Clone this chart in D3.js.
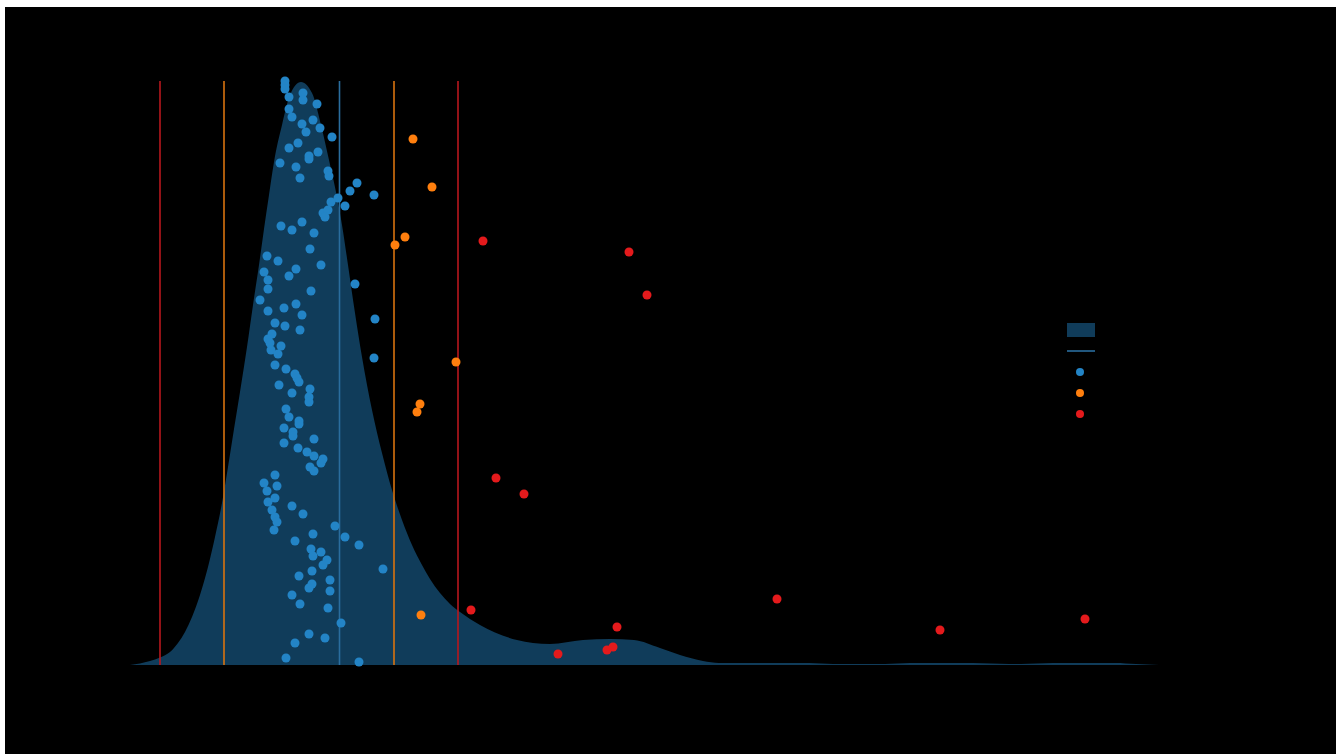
<!DOCTYPE html>
<html>
<head>
<meta charset="utf-8">
<script src="https://cdn.jsdelivr.net/npm/d3@7"></script>
<style>
  html, body { margin: 0; padding: 0; background: #ffffff; overflow: hidden; }
  svg { position: absolute; left: 5px; top: 7px; display: block; }
  text { font-family: "DejaVu Sans", sans-serif; }
</style>
</head>
<body>
<svg id="chart" width="1331" height="747"></svg>
<script>
// Kernel density estimate of the measured values (value, density)
const densityX = [0, 10, 20, 30, 40, 48, 55, 62, 70, 78, 85, 92, 98, 104, 110, 117, 123, 129, 134, 139, 144, 152, 160, 171,
  182, 191, 199, 207, 212, 218, 225, 232, 242, 252, 262, 272, 282, 292, 300, 310, 320, 330, 350, 387, 403, 420, 453, 480, 504,
  530, 550, 573, 589, 679, 703, 755, 780, 843, 879, 891, 923, 985, 1006, 1029];
const densityY = [0, 1.5, 4, 7.5, 13, 22, 33, 48, 70, 98, 128, 162, 198, 236, 273, 318, 360, 400, 436, 470, 503, 540, 570, 583,
  572, 540, 505, 468, 440, 400, 352, 308, 255, 212, 175, 145, 120, 100, 86, 72, 61, 53, 40, 25, 22, 21, 25, 26, 25,
  17, 10, 4, 2, 2, 1, 1, 2, 2, 1, 1, 2, 2, 1, 0];

// Reference lines: outer fence, inner fence, median, inner fence, outer fence
const refValues = [30, 94, 209.5, 264, 328];
const refKinds  = ["outer", "inner", "median", "inner", "outer"];

// Observations within the inner fences (value, vertical jitter)
const normalX = [155, 155, 155, 159, 173, 173, 187, 159, 162, 172, 183, 176, 190, 202, 159, 168, 188, 179, 179, 150,
  166, 170, 198, 199, 227, 220, 244, 208, 201, 215, 193, 198, 195, 151, 172, 162, 184, 180, 137, 148,
  191, 166, 134, 159, 138, 138, 181, 225, 130, 166, 138, 154, 172, 145, 155, 170, 245, 142, 138, 140,
  151, 141, 148, 244, 145, 156, 165, 167, 169, 149, 180, 162, 179, 179, 156, 159, 169, 169, 154, 163,
  163, 184, 154, 168, 177, 184, 193, 191, 180, 184, 145, 134, 147, 137, 145, 138, 162, 142, 173, 145,
  147, 205, 144, 183, 215, 165, 229, 181, 191, 183, 197, 193, 253, 182, 169, 200, 182, 179, 200, 162,
  170, 198, 211, 179, 195, 165, 156, 229];
const normalJ = [584, 580, 576, 568, 572, 565, 561, 556, 548, 541, 545, 533, 537, 528, 517, 522, 513, 509, 506, 502,
  498, 487, 494, 489, 482, 474, 470, 467, 463, 459, 452, 455, 448, 439, 443, 435, 432, 416, 409, 404,
  400, 396, 393, 389, 385, 376, 374, 381, 365, 361, 354, 357, 350, 342, 339, 335, 346, 331, 326, 322,
  319, 315, 311, 307, 300, 296, 291, 287, 283, 280, 276, 272, 268, 263, 256, 248, 244, 241, 237, 233,
  229, 226, 222, 217, 213, 209, 206, 202, 198, 194, 190, 182, 179, 174, 167, 163, 159, 155, 151, 148,
  143, 139, 135, 131, 128, 124, 120, 116, 113, 109, 105, 100, 96, 94, 89, 85, 81, 77, 74, 70,
  61, 57, 42, 31, 27, 22, 7, 3];

// Mild outliers (between inner and outer fences)
const mildX = [283, 302, 275, 265, 326, 290, 287, 291];
const mildJ = [526, 478, 428, 420, 303, 261, 253, 50];

// Extreme outliers (beyond the outer fences)
const extremeX = [353, 499, 517, 366, 394, 341, 647, 487, 428, 477, 483, 810, 955];
const extremeJ = [424, 413, 370, 187, 171, 55, 66, 38, 11, 15, 18, 35, 46];

const legendLabels = ["Density", "Median", "Normal", "Mild outlier", "Extreme outlier"];

const colors = {
  fill: "#1f77b4",
  normal: "#2384c6",
  mild: "#ff7f0e",
  extreme: "#e41a1c",
  median: "#2a6d9e",
  inner: "#d9730f",
  outer: "#b8171d"
};

// ---- layout (svg is offset 5px/7px in the page) ----
const svg = d3.select("#chart");
const W = 1331, H = 747;
const plotLeft = 125, plotRight = 1154, plotTop = 74, plotBottom = 658;

svg.append("rect").attr("width", W).attr("height", H).attr("fill", "#000000");

const x = d3.scaleLinear().domain([0, 1029]).range([plotLeft, plotRight]);
const y = d3.scaleLinear().domain([0, 584]).range([plotBottom, plotTop]);

const g = svg.append("g");

// density area
const area = d3.area()
  .x((d, i) => x(densityX[i]))
  .y0(y(0))
  .y1((d, i) => y(densityY[i]))
  .curve(d3.curveMonotoneX);

g.append("path")
  .datum(densityX)
  .attr("d", area)
  .attr("fill", colors.fill)
  .attr("fill-opacity", 0.5);

// reference lines
g.selectAll("line.ref")
  .data(refValues)
  .join("line")
  .attr("class", "ref")
  .attr("x1", d => x(d)).attr("x2", d => x(d))
  .attr("y1", y(0)).attr("y2", y(584))
  .attr("stroke", (d, i) => colors[refKinds[i]])
  .attr("stroke-width", 1.6);

// points
function drawPoints(xs, js, color, cls) {
  g.selectAll("circle." + cls)
    .data(xs)
    .join("circle")
    .attr("class", cls)
    .attr("cx", (d, i) => x(d))
    .attr("cy", (d, i) => y(js[i]))
    .attr("r", 4.5)
    .attr("fill", color);
}
drawPoints(normalX, normalJ, colors.normal, "normal");
drawPoints(mildX, mildJ, colors.mild, "mild");
drawPoints(extremeX, extremeJ, colors.extreme, "extreme");

// axes (drawn in the background colour)
const xAxis = g.append("g")
  .attr("transform", `translate(0,${plotBottom + 8})`)
  .call(d3.axisBottom(x).ticks(10));
const yAxis = g.append("g")
  .attr("transform", `translate(${plotLeft - 8},0)`)
  .call(d3.axisLeft(y).ticks(6));
[xAxis, yAxis].forEach(a => {
  a.selectAll("path, line").attr("stroke", "#000000");
  a.selectAll("text").attr("fill", "#000000").attr("font-size", 12);
});

// legend
const lg = svg.append("g").attr("transform", "translate(1062,316)");
lg.append("rect").attr("x", 0).attr("y", 0).attr("width", 28).attr("height", 14)
  .attr("fill", colors.fill).attr("fill-opacity", 0.5);
lg.append("line").attr("x1", 0).attr("x2", 28).attr("y1", 28).attr("y2", 28)
  .attr("stroke", colors.median).attr("stroke-width", 1.6);
[colors.normal, colors.mild, colors.extreme].forEach((c, i) => {
  lg.append("circle").attr("cx", 13).attr("cy", 49 + i * 21).attr("r", 4).attr("fill", c);
});
lg.selectAll("text")
  .data(legendLabels)
  .join("text")
  .attr("x", 36)
  .attr("y", (d, i) => [7, 28, 49, 70, 91][i])
  .attr("dy", "0.35em")
  .attr("font-size", 12)
  .attr("fill", "#000000")
  .text(d => d);
</script>
</body>
</html>
